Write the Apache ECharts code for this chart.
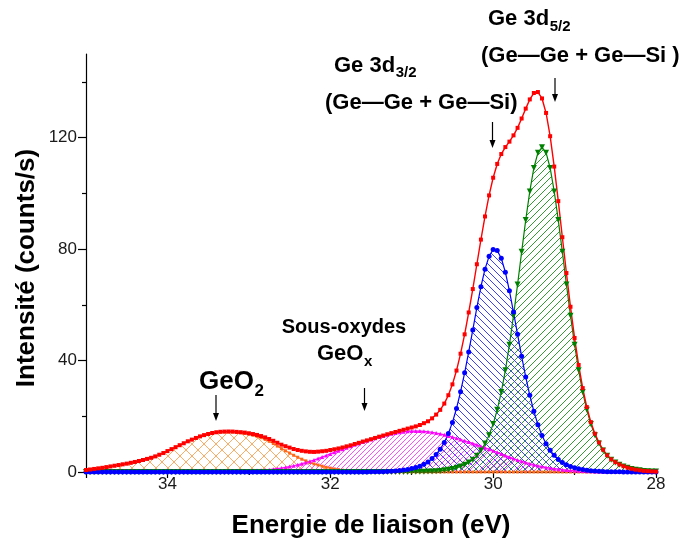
<!DOCTYPE html>
<html>
<head>
<meta charset="utf-8">
<title>Ge 3d</title>
<script src="https://cdn.jsdelivr.net/npm/echarts@6.0.0/dist/echarts.min.js"></script>
<style>
  html, body { margin: 0; padding: 0; background: #fff; }
  #xps { width: 680px; height: 546px; }
</style>
</head>
<body>
<div id="xps"></div>
<script>
//*******************************    données   *******************************
// énergie de liaison (eV), pas de 0.05
var energies = [35.00,34.95,34.90,34.85,34.80,34.75,34.70,34.65,34.60,34.55,
  34.50,34.45,34.40,34.35,34.30,34.25,34.20,34.15,34.10,34.05,
  34.00,33.95,33.90,33.85,33.80,33.75,33.70,33.65,33.60,33.55,
  33.50,33.45,33.40,33.35,33.30,33.25,33.20,33.15,33.10,33.05,
  33.00,32.95,32.90,32.85,32.80,32.75,32.70,32.65,32.60,32.55,
  32.50,32.45,32.40,32.35,32.30,32.25,32.20,32.15,32.10,32.05,
  32.00,31.95,31.90,31.85,31.80,31.75,31.70,31.65,31.60,31.55,
  31.50,31.45,31.40,31.35,31.30,31.25,31.20,31.15,31.10,31.05,
  31.00,30.95,30.90,30.85,30.80,30.75,30.70,30.65,30.60,30.55,
  30.50,30.45,30.40,30.35,30.30,30.25,30.20,30.15,30.10,30.05,
  30.00,29.95,29.90,29.85,29.80,29.75,29.70,29.65,29.60,29.55,
  29.50,29.45,29.40,29.35,29.30,29.25,29.20,29.15,29.10,29.05,
  29.00,28.95,28.90,28.85,28.80,28.75,28.70,28.65,28.60,28.55,
  28.50,28.45,28.40,28.35,28.30,28.25,28.20,28.15,28.10,28.05,
  28.00];

// enveloppe (rouge)
var envelope = [0.7,0.9,1.1,1.3,1.5,1.75,2.0,2.25,2.5,2.75,
  3.0,3.3,3.6,3.95,4.3,4.7,5.1,5.6,6.2,6.8,
  7.5,8.2,8.9,9.61,10.31,11.01,11.62,12.22,12.78,13.23,
  13.64,14.0,14.26,14.43,14.5,14.53,14.51,14.4,14.29,14.14,
  13.9,13.62,13.3,12.9,12.42,11.85,11.2,10.5,9.8,9.25,
  8.75,8.25,7.9,7.6,7.4,7.25,7.2,7.3,7.45,7.6,
  7.9,8.15,8.45,8.8,9.2,9.58,10.04,10.47,10.93,11.34,
  11.77,12.22,12.68,13.09,13.54,13.95,14.36,14.77,15.16,15.58,
  15.97,16.37,16.87,17.52,18.2,19.25,20.6,22.3,24.55,27.55,
  31.45,36.4,42.45,49.4,57.25,65.65,74.55,83.4,91.7,99.25,
  105.6,110.55,114.1,116.6,118.55,120.8,123.5,126.85,130.4,133.7,
  136.0,136.35,134.05,128.85,120.5,109.6,97.2,84.25,71.4,59.3,
  48.1,38.4,30.1,23.3,17.9,13.73,10.59,7.99,6.01,4.57,
  3.53,2.7,2.08,1.56,1.15,0.83,0.62,0.41,0.31,0.21,
  0.15];

// GeO2 (orange)
var geo2 = [0.7,0.9,1.1,1.3,1.5,1.75,2.0,2.25,2.5,2.75,
  3.0,3.3,3.6,3.95,4.3,4.7,5.1,5.6,6.2,6.8,
  7.5,8.2,8.9,9.6,10.3,11.0,11.6,12.2,12.75,13.2,
  13.6,13.95,14.2,14.35,14.4,14.4,14.35,14.2,14.05,13.85,
  13.55,13.2,12.8,12.3,11.7,11.0,10.2,9.3,8.4,7.6,
  6.8,6.0,5.3,4.6,4.0,3.4,2.9,2.5,2.1,1.7,
  1.4,1.1,0.85,0.65,0.5,0.38,0.28,0.2,0.15,0.1,
  0.07,0.05,0.03,0.02,0.01,0,0,0,0,0,
  0,0,0,0,0,0,0,0,0,0,
  0,0,0,0,0,0,0,0,0,0,
  0,0,0,0,0,0,0,0,0,0,
  0,0,0,0,0,0,0,0,0,0,
  0,0,0,0,0,0,0,0,0,0,
  0,0,0,0,0,0,0,0,0,0,
  0];

// sous-oxydes GeOx (magenta)
var geox = [0,0,0,0,0,0,0,0,0,0,
  0,0,0,0,0,0,0,0,0,0,
  0,0,0,0.01,0.01,0.01,0.02,0.02,0.03,0.03,
  0.04,0.05,0.06,0.08,0.1,0.13,0.16,0.2,0.24,0.29,
  0.35,0.42,0.5,0.6,0.72,0.85,1.0,1.2,1.4,1.65,
  1.95,2.25,2.6,3.0,3.4,3.85,4.3,4.8,5.35,5.9,
  6.5,7.05,7.6,8.15,8.7,9.2,9.75,10.25,10.75,11.2,
  11.65,12.1,12.55,12.95,13.35,13.7,14.0,14.25,14.45,14.6,
  14.68,14.7,14.68,14.6,14.45,14.25,14.0,13.7,13.35,12.95,
  12.55,12.1,11.65,11.2,10.75,10.25,9.75,9.2,8.7,8.15,
  7.6,7.05,6.5,5.9,5.35,4.8,4.3,3.85,3.4,3.0,
  2.6,2.25,1.95,1.65,1.4,1.2,1.0,0.85,0.72,0.6,
  0.5,0.42,0.35,0.29,0.24,0.2,0.16,0.13,0.1,0.08,
  0.06,0.05,0.04,0.03,0.03,0.02,0.02,0.01,0.01,0.01,
  0];

// Ge 3d3/2 (bleu)
var d32 = [0,0,0,0,0,0,0,0,0,0,
  0,0,0,0,0,0,0,0,0,0,
  0,0,0,0,0,0,0,0,0,0,
  0,0,0,0,0,0,0,0,0,0,
  0,0,0,0,0,0,0,0,0,0,
  0,0,0,0,0,0,0,0,0,0,
  0,0,0,0,0,0,0.01,0.02,0.03,0.04,
  0.05,0.07,0.1,0.12,0.18,0.25,0.35,0.5,0.68,0.94,
  1.24,1.6,2.1,2.8,3.6,4.8,6.3,8.2,10.6,13.8,
  17.8,22.8,28.8,35.6,43.1,51.0,59.0,66.5,72.8,77.4,
  79.8,79.5,76.7,71.7,65.0,57.4,49.4,41.5,34.1,27.5,
  21.8,17.0,13.1,10.1,7.8,6.0,4.5,3.4,2.6,2.0,
  1.5,1.18,0.88,0.64,0.46,0.33,0.23,0.16,0.11,0.09,
  0.07,0.05,0.04,0.03,0.02,0.01,0,0,0,0,
  0];

// Ge 3d5/2 (vert)
var d52 = [0,0,0,0,0,0,0,0,0,0,
  0,0,0,0,0,0,0,0,0,0,
  0,0,0,0,0,0,0,0,0,0,
  0,0,0,0,0,0,0,0,0,0,
  0,0,0,0,0,0,0,0,0,0,
  0,0,0,0,0,0,0,0,0,0,
  0,0,0,0,0,0,0,0,0,0,
  0,0,0,0,0,0,0.01,0.02,0.03,0.04,
  0.05,0.07,0.09,0.12,0.15,0.2,0.3,0.4,0.6,0.8,
  1.1,1.5,2.0,2.6,3.4,4.4,5.8,7.7,10.2,13.2,
  17.2,22.3,28.7,36.5,45.7,56.1,67.3,79.0,90.4,100.7,
  109.1,114.6,116.5,114.6,109.1,100.7,90.4,79.0,67.3,56.1,
  45.7,36.5,28.7,22.3,17.2,13.2,10.2,7.7,5.8,4.4,
  3.4,2.6,2.0,1.5,1.1,0.8,0.6,0.4,0.3,0.2,
  0.15];

// graduations
var xMajor = [28, 30, 32, 34];
var xMinor = [29, 31, 33];
var yMajor = [0, 40, 80, 120];
var yMinor = [20, 60, 100, 140];

//*******************************    motifs hachurés   *******************************
function hatch(color, step, kinds) {
  var c = document.createElement('canvas');
  c.width = step;
  c.height = step;
  var g = c.getContext('2d');
  g.strokeStyle = color;
  g.lineWidth = 1;
  g.beginPath();
  kinds.forEach(function (k) {
    if (k === '/') {
      g.moveTo(0, step); g.lineTo(step, 0);
      g.moveTo(-1, 1); g.lineTo(1, -1);
      g.moveTo(step - 1, step + 1); g.lineTo(step + 1, step - 1);
    } else {
      g.moveTo(0, 0); g.lineTo(step, step);
      g.moveTo(-1, step - 1); g.lineTo(1, step + 1);
      g.moveTo(step - 1, -1); g.lineTo(step + 1, 1);
    }
  });
  g.stroke();
  return { image: c, repeat: 'repeat' };
}

function pairs(vals) {
  return energies.map(function (e, i) { return [e, vals[i]]; });
}

// largeur d'un texte, pour coller les indices
var measureCtx = document.createElement('canvas').getContext('2d');
function textWidth(str, font) {
  measureCtx.font = font;
  return measureCtx.measureText(str).width;
}

//*******************************    graphique   *******************************
var xpsChart = echarts.init(document.getElementById('xps'), null, { renderer: 'canvas' });

var FONT = '"Liberation Sans", Arial, sans-serif';
var axisColor = '#000';

function comp(name, vals, color, symbol, size, fill, extra) {
  var s = {
    name: name,
    type: 'line',
    data: pairs(vals),
    symbol: symbol,
    symbolSize: size,
    showSymbol: true,
    sampling: 'none',
    lineStyle: { color: color, width: 1.2 },
    itemStyle: { color: color },
    emphasis: { disabled: true }
  };
  if (fill) s.areaStyle = { color: fill, opacity: 1 };
  if (extra) Object.keys(extra).forEach(function (k) { s[k] = extra[k]; });
  return s;
}

function txt(str, x, y, size, align) {
  return {
    type: 'text', x: x, y: y, silent: true,
    style: {
      text: str, fill: '#000',
      font: 'bold ' + size + 'px ' + FONT,
      textAlign: align || 'left', textVerticalAlign: 'middle'
    }
  };
}

// texte + indice (sub) collé à droite
function txtSub(str, sub, x, y, size, subSize, drop) {
  var w = textWidth(str, 'bold ' + size + 'px ' + FONT);
  return [txt(str, x, y, size), txt(sub, x + w + 0.5, y + drop, subSize)];
}

function arrow(x, y1, y2) {
  return [
    { type: 'line', silent: true, shape: { x1: x, y1: y1, x2: x, y2: y2 - 6 },
      style: { stroke: '#000', lineWidth: 1.2 } },
    { type: 'polygon', silent: true, shape: { points: [[x - 3, y2 - 8], [x + 3, y2 - 8], [x, y2]] },
      style: { fill: '#000' } }
  ];
}

var graphics = [].concat(
  txtSub('Ge 3d', '5/2', 488, 19, 22, 15, 8),
  [txt('(Ge\u2014Ge + Ge\u2014Si )', 481, 56, 22)],
  txtSub('Ge 3d', '3/2', 334, 66, 22, 15, 7),
  [txt('(Ge\u2014Ge + Ge\u2014Si)', 325, 103, 22)],
  [txt('Sous-oxydes', 344, 327, 20, 'center')],
  txtSub('GeO', 'x', 317, 354, 22, 15, 8),
  txtSub('GeO', '2', 199, 382, 26, 17, 9),
  [txt('Energie de liaison (eV)', 371, 526, 26, 'center'),
  {
    type: 'text', x: 27, y: 268, rotation: Math.PI / 2, silent: true,
    style: {
      text: 'Intensit\u00e9 (counts/s)', fill: '#000',
      font: 'bold 26px ' + FONT,
      textAlign: 'center', textVerticalAlign: 'middle'
    }
  }],
  arrow(492.5, 122, 148), arrow(555, 78, 102), arrow(364.5, 388, 411), arrow(216, 395, 421)
);

var option = {
  animation: false,
  backgroundColor: '#fff',
  grid: { left: 86, top: 54, right: 24, bottom: 74 },
  xAxis: [{
    type: 'value', min: 28, max: 35, interval: 1, inverse: true,
    axisLine: { onZero: false, lineStyle: { color: axisColor, width: 1.2 } },
    axisTick: { customValues: xMajor.concat([35]), length: 6, lineStyle: { color: axisColor, width: 1.2 } },
    axisLabel: { customValues: xMajor, margin: 4, fontSize: 17, fontFamily: FONT, color: '#1a1a1a' },
    splitLine: { show: false }
  }, {
    type: 'value', min: 28, max: 35, interval: 1, inverse: true, position: 'bottom',
    axisLine: { show: false, onZero: false },
    axisTick: { customValues: xMinor, length: 3, lineStyle: { color: axisColor, width: 1.2 } },
    axisLabel: { show: false },
    splitLine: { show: false }
  }],
  yAxis: [{
    type: 'value', min: 0, max: 150, interval: 10,
    axisLine: { show: true, onZero: false, lineStyle: { color: axisColor, width: 1.2 } },
    axisTick: { customValues: yMajor, length: 8, lineStyle: { color: axisColor, width: 1.2 } },
    axisLabel: { customValues: yMajor, margin: 9, fontSize: 17, fontFamily: FONT, color: '#1a1a1a' },
    splitLine: { show: false }
  }, {
    type: 'value', min: 0, max: 150, interval: 10, position: 'left',
    axisLine: { show: false, onZero: false },
    axisTick: { customValues: yMinor, length: 4, lineStyle: { color: axisColor, width: 1.2 } },
    axisLabel: { show: false },
    splitLine: { show: false }
  }],
  series: [
    comp('GeO2', geo2, '#ff6a1a', 'rect', 3, hatch('#ffab66', 12, ['/', '\\'])),
    comp('GeOx', geox, '#ff00ff', 'triangle', 4, hatch('#ff4dff', 5, ['/'])),
    comp('Ge 3d5/2', d52, '#008000', 'triangle', 6, hatch('#2f9e2f', 7, ['/']), { symbolRotate: 180 }),
    comp('Ge 3d3/2', d32, '#0000ff', 'circle', 5, hatch('#3d3dff', 7, ['\\'])),
    comp('Enveloppe', envelope, '#ff0000', 'rect', 4, null, { lineStyle: { color: '#ff0000', width: 1.4 } })
  ],
  graphic: graphics
};

xpsChart.setOption(option);
</script>
</body>
</html>
